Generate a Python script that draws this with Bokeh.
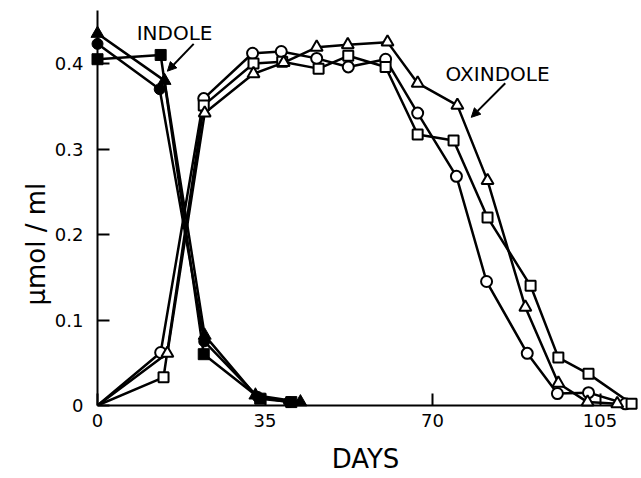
from bokeh.plotting import figure
from bokeh.models import Range1d, FixedTicker, Arrow, NormalHead, Label, Title
from bokeh.embed import file_html
from bokeh.resources import INLINE

# ---- data (days, umol/ml) ----
# Indole (filled markers)
ind_tri_x = [0, 14.0, 22.4, 33.0, 42.4]
ind_tri_y = [0.435, 0.380, 0.082, 0.012, 0.004]
ind_cir_x = [0, 13.0, 22.3, 33.5, 40.0]
ind_cir_y = [0.423, 0.370, 0.075, 0.010, 0.004]
ind_sq_x = [0, 13.2, 22.2, 34.0, 40.5]
ind_sq_y = [0.405, 0.410, 0.060, 0.008, 0.004]

# Oxindole (open markers)
ox_cir_x = [0, 13.2, 22.2, 32.4, 38.4, 45.8, 52.4, 60.2, 66.9, 75.0, 81.3, 89.8, 96.1, 102.6, 110.3]
ox_cir_y = [0.0, 0.062, 0.359, 0.412, 0.414, 0.406, 0.396, 0.405, 0.342, 0.268, 0.145, 0.061, 0.014, 0.015, 0.002]
ox_sq_x = [0, 13.8, 22.2, 32.6, 38.6, 46.2, 52.4, 60.2, 66.9, 74.4, 81.5, 90.5, 96.3, 102.6, 111.6]
ox_sq_y = [0.0, 0.033, 0.351, 0.400, 0.402, 0.394, 0.409, 0.396, 0.317, 0.310, 0.220, 0.140, 0.056, 0.037, 0.002]
ox_tri_x = [0, 14.6, 22.4, 32.6, 38.9, 45.8, 52.3, 60.6, 66.9, 75.2, 81.5, 89.4, 96.3, 102.4, 108.6]
ox_tri_y = [0.0, 0.061, 0.342, 0.388, 0.401, 0.419, 0.422, 0.425, 0.377, 0.351, 0.263, 0.115, 0.026, 0.004, 0.002]

x_ticks = [0, 35, 70, 105]
y_ticks = [0, 0.1, 0.2, 0.3, 0.4]
y_tick_labels = {0: "0", 0.1: "0.1", 0.2: "0.2", 0.3: "0.3", 0.4: "0.4"}

FONT = "DejaVu Sans"

p = figure(frame_width=536, frame_height=395,
           x_range=Range1d(0, 112), y_range=Range1d(0, 0.462),
           output_backend="svg", toolbar_location=None,
           min_border_left=97, min_border_right=8, min_border_top=10, min_border_bottom=73)
p.outline_line_color = None
p.grid.visible = False
p.background_fill_color = "white"
p.border_fill_color = "white"

for ax in (p.xaxis[0], p.yaxis[0]):
    ax.axis_line_width = 2
    ax.axis_line_color = "black"
    ax.major_tick_in = 12
    ax.major_tick_out = 0
    ax.major_tick_line_width = 2
    ax.minor_tick_line_color = None
    ax.major_label_text_font = FONT
    ax.major_label_text_font_size = "18px"
    ax.major_label_text_color = "black"

p.xaxis.ticker = FixedTicker(ticks=x_ticks)
p.yaxis.ticker = FixedTicker(ticks=y_ticks)
p.yaxis.major_label_overrides = y_tick_labels
p.xaxis.major_label_standoff = 8
p.yaxis.major_label_standoff = 14

p.xaxis.axis_label = "DAYS"
p.xaxis.axis_label_text_font = FONT
p.xaxis.axis_label_text_font_size = "26px"
p.xaxis.axis_label_text_font_style = "normal"
p.xaxis.axis_label_text_color = "black"
p.xaxis.axis_label_standoff = 14

p.add_layout(Title(text="µmol / ml", text_font=FONT, text_font_size="26px",
                   text_font_style="normal", text_color="black",
                   align="left", offset=100, standoff=2), "left")

LW = 2.5
# lines
for xs, ys in [(ox_cir_x, ox_cir_y), (ox_sq_x, ox_sq_y), (ox_tri_x, ox_tri_y),
               (ind_tri_x, ind_tri_y), (ind_cir_x, ind_cir_y), (ind_sq_x, ind_sq_y)]:
    p.line(xs, ys, line_color="black", line_width=LW)

# open markers
p.scatter(ox_cir_x[1:], ox_cir_y[1:], marker="circle", size=11, fill_color="white",
          line_color="black", line_width=2, level="overlay")
p.scatter(ox_sq_x[1:], ox_sq_y[1:], marker="square", size=10, fill_color="white",
          line_color="black", line_width=2, level="overlay")
p.scatter(ox_tri_x[1:], ox_tri_y[1:], marker="triangle", size=12, fill_color="white",
          line_color="black", line_width=2, level="overlay")
# filled markers
p.scatter(ind_cir_x, ind_cir_y, marker="circle", size=11, fill_color="black",
          line_color="black", line_width=1, level="overlay")
p.scatter(ind_sq_x, ind_sq_y, marker="square", size=11, fill_color="black",
          line_color="black", line_width=1, level="overlay")
p.scatter(ind_tri_x, ind_tri_y, marker="triangle", size=13, fill_color="black",
          line_color="black", line_width=1, level="overlay")

# annotations
p.add_layout(Label(x=16.1, y=0.436, text="INDOLE", text_font=FONT, text_font_size="20px",
                   text_align="center", text_baseline="middle", text_color="black"))
p.add_layout(Label(x=83.6, y=0.388, text="OXINDOLE", text_font=FONT, text_font_size="20px",
                   text_align="center", text_baseline="middle", text_color="black"))
p.add_layout(Arrow(x_start=20.1, y_start=0.423, x_end=14.6, y_end=0.391,
                   line_width=2, line_color="black",
                   end=NormalHead(size=9, fill_color="black", line_color="black")))
p.add_layout(Arrow(x_start=85.2, y_start=0.377, x_end=78.1, y_end=0.337,
                   line_width=2, line_color="black",
                   end=NormalHead(size=9, fill_color="black", line_color="black")))

open("out.html", "w").write(file_html(p, INLINE))
